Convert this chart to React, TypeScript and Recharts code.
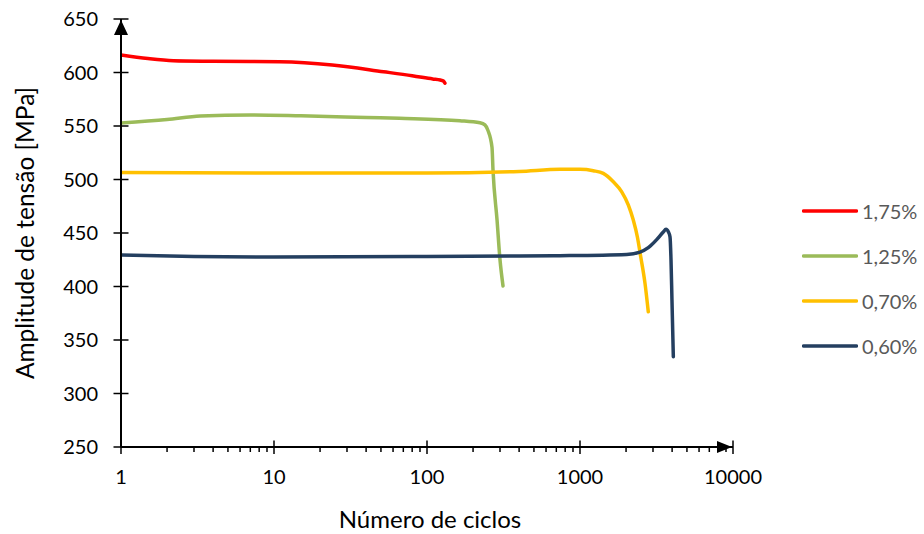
import { Line, LineChart, XAxis, YAxis } from "recharts";

// tensão vs ciclos
const n175 = [1, 1.5, 2.2, 4, 10.9, 24, 52, 80, 109, 122, 128, 131];
const s175 = [616.4, 613, 611, 610.5, 610, 607, 600.7, 597, 594, 593, 592, 590];

const n125 = [1, 2, 3.3, 7, 15, 40, 66, 164, 222, 239, 250, 266, 270, 287, 300, 314];
const s125 = [552.8, 556, 559.3, 560.3, 559.5, 558, 557.2, 555, 553, 551, 546, 530, 509, 462, 425, 400.5];

const n070 = [1, 10, 100, 400, 740, 1000, 1222, 1420, 1651, 1874, 2071, 2230, 2370, 2494, 2660, 2794];
const s070 = [506.5, 506, 506, 507.5, 509.5, 509.5, 508.2, 505.7, 497.9, 488.5, 476.1, 462.1, 446.5, 427.8, 402.9, 376.4];

const n060 = [1, 3, 10, 100, 400, 740, 2020, 2466, 2795, 3171, 3502, 3648, 3778, 3874, 3934, 3991, 4074];
const s060 = [429.4, 428, 427.5, 428, 428.5, 428.8, 430, 432.2, 436.3, 443.8, 450.9, 453.5, 451.1, 446.5, 424.8, 387.4, 334.4];

const yTicks = [250, 300, 350, 400, 450, 500, 550, 600, 650];
const majorTicks = [1, 10, 100, 1000, 10000];
const minorSteps = [2, 3, 4, 5, 6, 7, 8, 9];
const xTicks = [
	...majorTicks,
	...majorTicks.slice(0, -1).flatMap((d) => minorSteps.map((m) => d * m)),
].sort((a, b) => a - b);

const toPoints = (n: number[], s: number[]) => n.map((x, i) => ({ x, y: s[i] }));

const series = [
	{ name: "1,75%", color: "#FF0000", data: toPoints(n175, s175) },
	{ name: "1,25%", color: "#9BBB59", data: toPoints(n125, s125) },
	{ name: "0,70%", color: "#FFC000", data: toPoints(n070, s070) },
	{ name: "0,60%", color: "#243F60", data: toPoints(n060, s060) },
];

const FONT = "Lato, 'Open Sans', sans-serif";
const TICK = 7;
const GAP = 16;

function YTick(props: any) {
	const { x, y, payload } = props;
	const ax = x + TICK + GAP;
	return (
		<g>
			<line x1={ax - 7.5} x2={ax + 7.5} y1={y} y2={y} stroke="#000" strokeWidth={1.5} />
			{payload.value === 650 && (
				<polygon points={`${ax},${y + 1} ${ax - 7},${y + 16} ${ax + 7},${y + 16}`} fill="#000" />
			)}
			<text x={x} y={y} dy="0.36em" textAnchor="end" fontSize={20} fontFamily={FONT} fill="#000">
				{payload.value}
			</text>
		</g>
	);
}

function XTick(props: any) {
	const { x, y, payload } = props;
	const ay = y - TICK - GAP;
	const v = payload.value;
	const major = majorTicks.includes(v);
	return (
		<g>
			{major ? (
				<line x1={x} x2={x} y1={ay - 6.5} y2={ay + 7} stroke="#000" strokeWidth={1.5} />
			) : (
				<line x1={x} x2={x} y1={ay} y2={ay + 5} stroke="#000" strokeWidth={1.5} />
			)}
			{v === 10000 && (
				<polygon points={`${x - 1},${ay} ${x - 16},${ay - 6} ${x - 16},${ay + 6}`} fill="#000" />
			)}
			{major && (
				<text x={x} y={ay + 37} textAnchor="middle" fontSize={20} fontFamily={FONT} fill="#000">
					{v}
				</text>
			)}
		</g>
	);
}

function LegendBox() {
	return (
		<div
			style={{
				position: "absolute",
				left: 802,
				top: 188,
				width: 122,
				fontFamily: FONT,
				fontSize: 20,
				color: "#595959",
			}}
		>
			{series.map((s) => (
				<div key={s.name} style={{ display: "flex", alignItems: "center", height: 45 }}>
					<svg width={56} height={6}>
						<line x1={1.5} x2={54.5} y1={3} y2={3} stroke={s.color} strokeWidth={3.5} strokeLinecap="round" />
					</svg>
					<span style={{ marginLeft: 4 }}>{s.name}</span>
				</div>
			))}
		</div>
	);
}

export default function App() {
	return (
		<div style={{ position: "absolute", left: 0, top: 0, width: 924, height: 534, background: "#fff" }}>
			<LineChart width={924} height={534} margin={{ top: 19, right: 191, bottom: 47, left: 21 }}>
				<XAxis
					dataKey="x"
					type="number"
					scale="log"
					domain={[1, 10000]}
					allowDataOverflow
					ticks={xTicks}
					interval={0}
					height={40}
					tickSize={TICK}
					tickMargin={GAP}
					tickLine={false}
					tick={<XTick />}
					axisLine={{ stroke: "#000", strokeWidth: 2 }}
					label={{
						value: "Número de ciclos",
						position: "center",
						dy: 52,
						dx: 3,
						style: { fontSize: 24, fontFamily: FONT, fill: "#000" },
					}}
				/>
				<YAxis
					dataKey="y"
					type="number"
					domain={[250, 650]}
					allowDataOverflow
					ticks={yTicks}
					interval={0}
					width={100}
					tickSize={TICK}
					tickMargin={GAP}
					tickLine={false}
					tick={<YTick />}
					axisLine={{ stroke: "#000", strokeWidth: 2 }}
					label={{
						value: "Amplitude de tensão [MPa]",
						angle: -90,
						position: "center",
						dx: -46,
						style: { fontSize: 24.5, fontFamily: FONT, fill: "#000", textAnchor: "middle" },
					}}
				/>
				{series.map((s) => (
					<Line
						key={s.name}
						name={s.name}
						data={s.data}
						dataKey="y"
						type="monotone"
						stroke={s.color}
						strokeWidth={3.5}
						strokeLinecap="round"
						dot={false}
						activeDot={false}
						isAnimationActive={false}
					/>
				))}
			</LineChart>
			<LegendBox />
		</div>
	);
}
